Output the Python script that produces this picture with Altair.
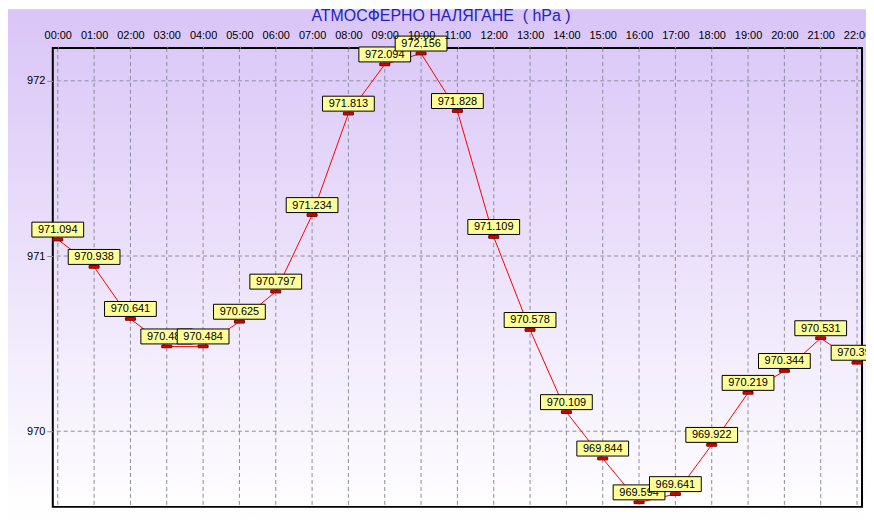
import altair as alt
import pandas as pd

hours = ["00:00", "01:00", "02:00", "03:00", "04:00", "05:00", "06:00", "07:00",
         "08:00", "09:00", "10:00", "11:00", "12:00", "13:00", "14:00", "15:00",
         "16:00", "17:00", "18:00", "19:00", "20:00", "21:00", "22:00"]
pressure = [971.094, 970.938, 970.641, 970.484, 970.484, 970.625, 970.797, 971.234,
            971.813, 972.094, 972.156, 971.828, 971.109, 970.578, 970.109, 969.844,
            969.594, 969.641, 969.922, 970.219, 970.344, 970.531, 970.391]
y_ticks = [970, 971, 972]
title_text = "АТМОСФЕРНО НАЛЯГАНЕ\u00a0\u00a0(\u00a0hPa\u00a0)"

W, H = 813, 461
PAD_L, PAD_T, PAD_R, PAD_B = 45, 39, 4, 14
FONT = "Liberation Sans"
grid_color = "#8C8C9C"

df = pd.DataFrame({"hour": hours, "p": pressure, "idx": list(range(len(hours)))})
df_y = pd.DataFrame({"p": y_ticks})

x_scale = alt.Scale(type="point", padding=0.137)
y_scale = alt.Scale(domain=[969.568, 972.1875], nice=False, zero=False)

x_axis = alt.Axis(orient="top", title=None, grid=False, domain=False,
                  labelAngle=0, labelFont=FONT, labelFontSize=11, labelColor="black",
                  tickSize=4, tickColor=grid_color, tickDash=[2, 2],
                  labelPadding=4, zindex=1)
y_axis = alt.Axis(values=y_ticks, title=None, grid=False, domain=False,
                  labelFont=FONT, labelFontSize=11, labelColor="black",
                  tickSize=6, tickColor=grid_color, labelPadding=2, zindex=1,
                  format="d")

x_enc = alt.X("hour:N", sort=hours, scale=x_scale, axis=x_axis)
y_enc = alt.Y("p:Q", scale=y_scale, axis=y_axis)

one = alt.Data(values=[{"a": 1}])

# background gradient
bg = alt.Chart(one).mark_rect(
    fill=alt.Gradient(gradient="linear",
                      stops=[alt.GradientStop(color="#D9C5F7", offset=0),
                             alt.GradientStop(color="#FFFFFF", offset=1)],
                      x1=0, x2=0, y1=0, y2=1)
).encode(
    x=alt.value(-PAD_L), x2=alt.value(W + PAD_R),
    y=alt.value(-PAD_T), y2=alt.value(H + PAD_B),
)

title = alt.Chart(one).mark_text(
    text=title_text, font=FONT, fontSize=16, color="#2323C0", baseline="middle", align="center"
).encode(x=alt.value(390), y=alt.value(-32))

vgrid = alt.Chart(df).mark_rule(color=grid_color, strokeDash=[4, 3], strokeWidth=1).encode(x=x_enc)
hgrid = alt.Chart(df_y).mark_rule(color=grid_color, strokeDash=[4, 3], strokeWidth=1).encode(y=y_enc)

frame = alt.Chart(one).mark_rect(
    filled=False, stroke="black", strokeWidth=2
).encode(x=alt.value(0), x2=alt.value(W), y=alt.value(0), y2=alt.value(H))

line = alt.Chart(df).mark_line(color="#FF0000", strokeWidth=1).encode(x=x_enc, y=y_enc)

markers = alt.Chart(df).mark_point(
    shape="M-1,-0.27L1,-0.27L1,0.27L-1,0.27Z", size=100, filled=True,
    fill="#E00000", stroke="#7A0000", strokeWidth=1, opacity=1
).encode(x=x_enc, y=y_enc)

BOX_W, BOX_H = 52, 15
half = BOX_H / BOX_W
box_path = f"M-1,-{half:.4f}L1,-{half:.4f}L1,{half:.4f}L-1,{half:.4f}Z"

label_layers = []
for i in range(len(hours)):
    box = alt.Chart(df).transform_filter(alt.datum.idx == i).mark_point(
        shape=box_path, size=BOX_W * BOX_W, filled=True, fill="#FFFF99",
        stroke="black", strokeWidth=1, opacity=1, yOffset=-10
    ).encode(x=x_enc, y=y_enc)
    txt = alt.Chart(df).transform_filter(alt.datum.idx == i).mark_text(
        font=FONT, fontSize=11, color="black", yOffset=-9.5, baseline="middle"
    ).encode(x=x_enc, y=y_enc, text=alt.Text("p:Q", format=".3f"))
    label_layers += [box, txt]

chart = alt.layer(bg, title, vgrid, hgrid, frame, line, markers, *label_layers).properties(
    width=W, height=H,
    autosize=alt.AutoSizeParams(type="none"),
    padding={"left": PAD_L, "top": PAD_T, "right": PAD_R, "bottom": PAD_B},
).configure_view(stroke=None).configure(background="white")

chart.save("out.html", embed_options={"renderer": "svg", "actions": False})
